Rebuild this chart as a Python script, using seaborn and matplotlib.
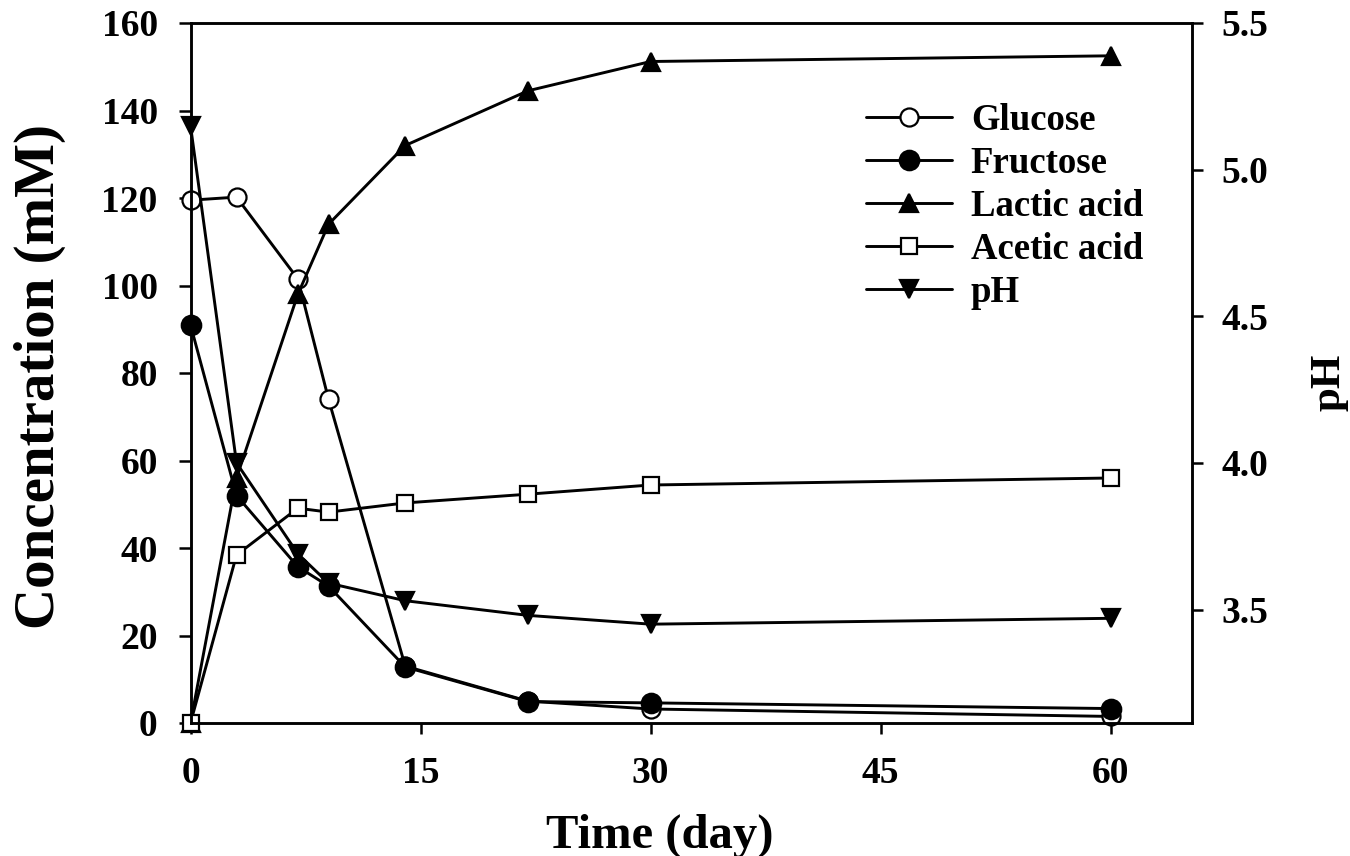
import matplotlib
matplotlib.use("Agg")
import matplotlib.pyplot as plt
import numpy as np
import seaborn as sns

# fermentation time course
day = [0, 3, 7, 9, 14, 22, 30, 60]
glucose = [119.5, 120.2, 101.5, 74.0, 13.0, 5.0, 3.2, 1.5]
fructose = [91.0, 52.0, 35.7, 31.3, 12.8, 4.9, 4.6, 3.3]
lactic = [0.0, 56.0, 98.0, 114.0, 132.0, 144.5, 151.2, 152.5]
acetic = [0.0, 38.4, 49.1, 48.2, 50.3, 52.3, 54.4, 56.0]
ph = [5.15, 4.00, 3.69, 3.59, 3.53, 3.48, 3.45, 3.47]

xticks = [0, 15, 30, 45, 60]
yticks = [0, 20, 40, 60, 80, 100, 120, 140, 160]
phticks = [3.5, 4.0, 4.5, 5.0, 5.5]

sns.set_theme(style="ticks")
plt.rcParams['font.family'] = ['Liberation Serif', 'DejaVu Serif']
plt.rcParams['font.weight'] = 'bold'
plt.rcParams['axes.labelweight'] = 'bold'
plt.rcParams['text.color'] = 'black'
plt.rcParams['axes.labelcolor'] = 'black'
plt.rcParams['xtick.color'] = 'black'
plt.rcParams['ytick.color'] = 'black'

fig = plt.figure(figsize=(13.5, 8.56), dpi=100, facecolor='white')
ax = fig.add_axes([190.5 / 1350, 1 - 723 / 856, (1192 - 190.5) / 1350, 700 / 856])
ax2 = ax.twinx()

lw = 2.1
common = dict(color='black', linewidth=lw, markeredgecolor='black', markeredgewidth=1.6,
              errorbar=None, clip_on=False)

sns.lineplot(x=day, y=glucose, ax=ax, marker='o', markersize=13, markerfacecolor='white',
             label='Glucose', **common)
sns.lineplot(x=day, y=fructose, ax=ax, marker='o', markersize=14, markerfacecolor='black',
             label='Fructose', **common)
sns.lineplot(x=day, y=lactic, ax=ax, marker='^', markersize=13, markerfacecolor='black',
             label='Lactic acid', **common)
sns.lineplot(x=day, y=acetic, ax=ax, marker='s', markersize=11, markerfacecolor='white',
             label='Acetic acid', **common)
sns.lineplot(x=day, y=ph, ax=ax2, marker='v', markersize=13, markerfacecolor='black',
             label='pH', **common)

for a in (ax, ax2):
    if a.get_legend() is not None:
        a.get_legend().remove()

ax.set_xlim(0, 65.3)
ax.set_ylim(0, 160)
ax2.set_ylim(3.113, 5.5)
ax.set_xticks(xticks)
ax.set_yticks(yticks)
ax2.set_yticks(phticks)
ax2.set_yticklabels([f"{v:.1f}" for v in phticks])

for a in (ax, ax2):
    for s in a.spines.values():
        s.set_linewidth(1.8)
        s.set_color('black')

ax.tick_params(axis='x', direction='out', length=8, width=1.8, pad=16, labelsize=27, colors='black')
ax.tick_params(axis='y', direction='out', length=8.6, width=1.8, pad=15, labelsize=27, colors='black')
ax2.tick_params(axis='y', direction='out', length=8, width=1.8, pad=13, labelsize=27, colors='black')

ax.set_xlabel('Time (day)', fontsize=35, fontweight='bold', color='black')
ax.xaxis.set_label_coords(0.469, -(848 - 723) / 700)
ax.xaxis.label.set_va('baseline')

ax.set_ylabel('Concentration (mM)', fontsize=41, fontweight='bold', color='black')
ax.yaxis.set_label_coords(-(190 - 53) / 1002, 0.495)
ax.yaxis.label.set_va('baseline')

ax2.set_ylabel('pH', fontsize=31, fontweight='bold', rotation=90, color='black')
ax2.yaxis.set_label_coords((1340 - 190) / 1002, 0.487)
ax2.yaxis.label.set_va('baseline')

h1, l1 = ax.get_legend_handles_labels()
h2, l2 = ax2.get_legend_handles_labels()
ax2.legend(h1 + h2, l1 + l2, loc='upper left', bbox_to_anchor=(0.674, 0.886),
           frameon=False, fontsize=26.5, handlelength=2.36, handletextpad=0.5,
           labelspacing=0.22, borderpad=0, borderaxespad=0, labelcolor='black')

fig.savefig('out.png', dpi=100, facecolor='white')
